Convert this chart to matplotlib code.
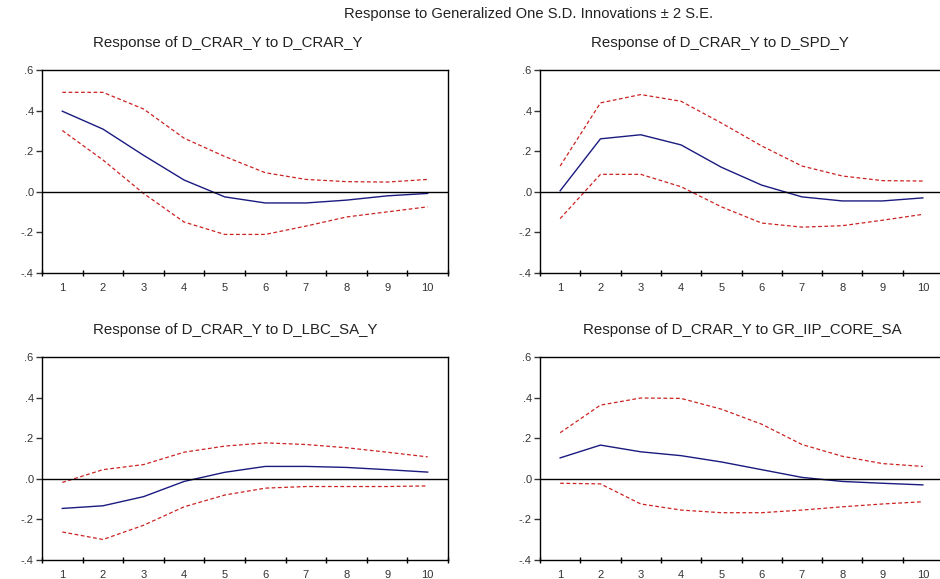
import matplotlib
matplotlib.use("Agg")
import matplotlib.pyplot as plt

plt.rcParams['font.family'] = ['Liberation Sans', 'DejaVu Sans']

periods = [1, 2, 3, 4, 5, 6, 7, 8, 9, 10]

titles = [
    "Response of D_CRAR_Y to D_CRAR_Y",
    "Response of D_CRAR_Y to D_SPD_Y",
    "Response of D_CRAR_Y to D_LBC_SA_Y",
    "Response of D_CRAR_Y to GR_IIP_CORE_SA",
]

crar_resp = [0.397, 0.309, 0.180, 0.058, -0.025, -0.055, -0.055, -0.041, -0.020, -0.008]
crar_up = [0.490, 0.490, 0.408, 0.264, 0.174, 0.094, 0.061, 0.050, 0.048, 0.061]
crar_lo = [0.302, 0.157, -0.008, -0.149, -0.210, -0.210, -0.169, -0.124, -0.099, -0.074]

spd_resp = [0.005, 0.261, 0.281, 0.231, 0.121, 0.033, -0.025, -0.045, -0.045, -0.030]
spd_up = [0.127, 0.438, 0.479, 0.446, 0.339, 0.226, 0.127, 0.078, 0.055, 0.053]
spd_lo = [-0.132, 0.086, 0.086, 0.025, -0.074, -0.154, -0.174, -0.167, -0.140, -0.111]

lbc_resp = [-0.146, -0.133, -0.088, -0.013, 0.032, 0.061, 0.061, 0.056, 0.045, 0.033]
lbc_up = [-0.018, 0.045, 0.070, 0.131, 0.161, 0.177, 0.169, 0.153, 0.131, 0.108]
lbc_lo = [-0.262, -0.299, -0.229, -0.138, -0.080, -0.046, -0.038, -0.038, -0.038, -0.035]

iip_resp = [0.103, 0.166, 0.133, 0.114, 0.083, 0.045, 0.007, -0.013, -0.022, -0.030]
iip_up = [0.227, 0.363, 0.398, 0.396, 0.343, 0.269, 0.169, 0.111, 0.075, 0.061]
iip_lo = [-0.022, -0.025, -0.124, -0.154, -0.167, -0.167, -0.154, -0.138, -0.124, -0.113]

y_ticks = [-0.4, -0.2, 0.0, 0.2, 0.4, 0.6]
y_tick_labels = ["-.4", "-.2", ".0", ".2", ".4", ".6"]

W, H = 940, 579
fig = plt.figure(figsize=(W / 100, H / 100), dpi=100)

# axes boxes in pixels: left, top, right, bottom
boxes = [
    (42, 70, 448, 273),
    (540, 70, 943, 273),
    (42, 357, 448, 560),
    (540, 357, 943, 560),
]
title_pos = [(228, 43), (720, 43), (235, 330), (742, 330)]

series = [
    (crar_resp, crar_up, crar_lo),
    (spd_resp, spd_up, spd_lo),
    (lbc_resp, lbc_up, lbc_lo),
    (iip_resp, iip_up, iip_lo),
]

for (l, t, r, b), (resp, up, lo), title, (tx, ty) in zip(boxes, series, titles, title_pos):
    ax = fig.add_axes([l / W, 1 - b / H, (r - l) / W, (b - t) / H])
    ax.plot(periods, up, color="#cc2222", lw=0.9, ls=(0, (3, 2)))
    ax.plot(periods, lo, color="#cc2222", lw=0.9, ls=(0, (3, 2)))
    ax.plot(periods, resp, color="#1a1a80", lw=1.0)
    ax.axhline(0, color="black", lw=1.0)
    ax.set_xlim(0.5, 10.5)
    ax.set_ylim(-0.4, 0.6)
    ax.set_yticks(y_ticks)
    ax.set_yticklabels(y_tick_labels)
    ax.set_xticks(periods)
    ax.set_xticklabels([str(p) for p in periods])
    ax.set_xticks([p + 0.5 for p in [0] + periods], minor=True)
    ax.tick_params(axis='x', which='major', length=0, labelsize=8, pad=7, colors='#333333')
    ax.tick_params(axis='x', which='minor', length=4, direction='inout', width=1)
    ax.tick_params(axis='y', which='major', length=4, direction='out', labelsize=8, pad=2, colors='#333333', width=1)
    for s in ax.spines.values():
        s.set_linewidth(1.0)
        s.set_color('black')
    fig.text(tx / W, 1 - ty / H, title, ha='center', va='center', fontsize=10.8, color='#222222')

fig.text(529 / W, 1 - 14 / H, "Response to Generalized One S.D. Innovations \u00b1 2 S.E.",
         ha='center', va='center', fontsize=10.6, color='#222222')

fig.savefig("out.png", dpi=100)
